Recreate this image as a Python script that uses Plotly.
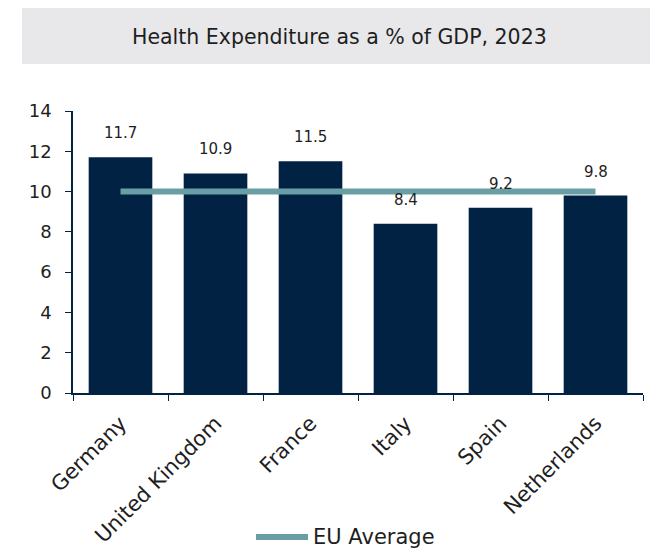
import plotly.graph_objects as go

countries = ["Germany", "United Kingdom", "France", "Italy", "Spain", "Netherlands"]
spend_pct_gdp = [11.7, 10.9, 11.5, 8.4, 9.2, 9.8]
eu_average = [10, 10, 10, 10, 10, 10]
y_ticks = [0, 2, 4, 6, 8, 10, 12, 14]

NAVY = "#022244"
TEAL = "#6a9ea5"
TEXT = "#1e1e1e"
FONT = "'DejaVu Sans', sans-serif"

# plot-area geometry in pixels
W, H = 665, 552
L, R, T, B = 73, 22, 111, 159
PW, PH = W - L - R, H - T - B


def px_x(x):
    return (x - L) / PW


def px_y(y):
    return (H - B - y) / PH


fig = go.Figure()

fig.add_trace(go.Bar(
    x=countries, y=spend_pct_gdp,
    marker=dict(color=NAVY, line=dict(width=0)),
    showlegend=False,
    hoverinfo="x+y",
))

fig.add_trace(go.Scatter(
    x=countries, y=eu_average,
    mode="lines", name="EU Average",
    line=dict(color=TEAL, width=6),
    showlegend=False,
))

# value labels above each bar
for c, v in zip(countries, spend_pct_gdp):
    fig.add_annotation(
        x=c, y=v, text=f"{v:.1f}", showarrow=False,
        yshift=24, font=dict(size=15, color=TEXT, family=FONT),
    )

# grey title banner
fig.add_shape(
    type="rect", xref="paper", yref="paper",
    x0=px_x(22), x1=px_x(650), y0=px_y(64), y1=px_y(8),
    fillcolor="#e8e8ea", line=dict(width=0), layer="below",
)
fig.add_annotation(
    xref="paper", yref="paper",
    x=px_x(339), y=px_y(37), xanchor="center", yanchor="middle",
    text="Health Expenditure as a % of GDP, 2023",
    showarrow=False, font=dict(size=20.5, color=TEXT, family=FONT),
)

# legend key for the EU average line
fig.add_shape(
    type="line", xref="paper", yref="paper",
    x0=px_x(256), x1=px_x(308), y0=px_y(537), y1=px_y(537),
    line=dict(color=TEAL, width=6),
)
fig.add_annotation(
    xref="paper", yref="paper",
    x=px_x(311), y=px_y(537), xanchor="left", yanchor="middle",
    text="EU Average", showarrow=False,
    font=dict(size=21, color=TEXT, family=FONT),
)

fig.update_layout(
    width=W, height=H,
    margin=dict(l=L, r=R, t=T, b=B, autoexpand=False),
    paper_bgcolor="white", plot_bgcolor="white",
    bargap=0.33,
    font=dict(family=FONT, color=TEXT),
    showlegend=False,
    xaxis=dict(
        automargin=False,
        showline=True, linecolor=NAVY, linewidth=1.5,
        ticks="outside", tickson="boundaries", ticklen=6,
        tickcolor=NAVY, tickangle=-45,
        ticklabelstandoff=8,
        tickfont=dict(size=21, family=FONT, color=TEXT),
        showgrid=False,
    ),
    yaxis=dict(
        automargin=False,
        range=[0, 14], tickvals=y_ticks,
        showline=True, linecolor=NAVY, linewidth=1.5,
        ticks="outside", ticklen=6, tickcolor=NAVY,
        ticklabelstandoff=10,
        tickfont=dict(size=18, family=FONT, color=TEXT),
        showgrid=False, zeroline=False,
    ),
)

fig.write_html("out.html")
